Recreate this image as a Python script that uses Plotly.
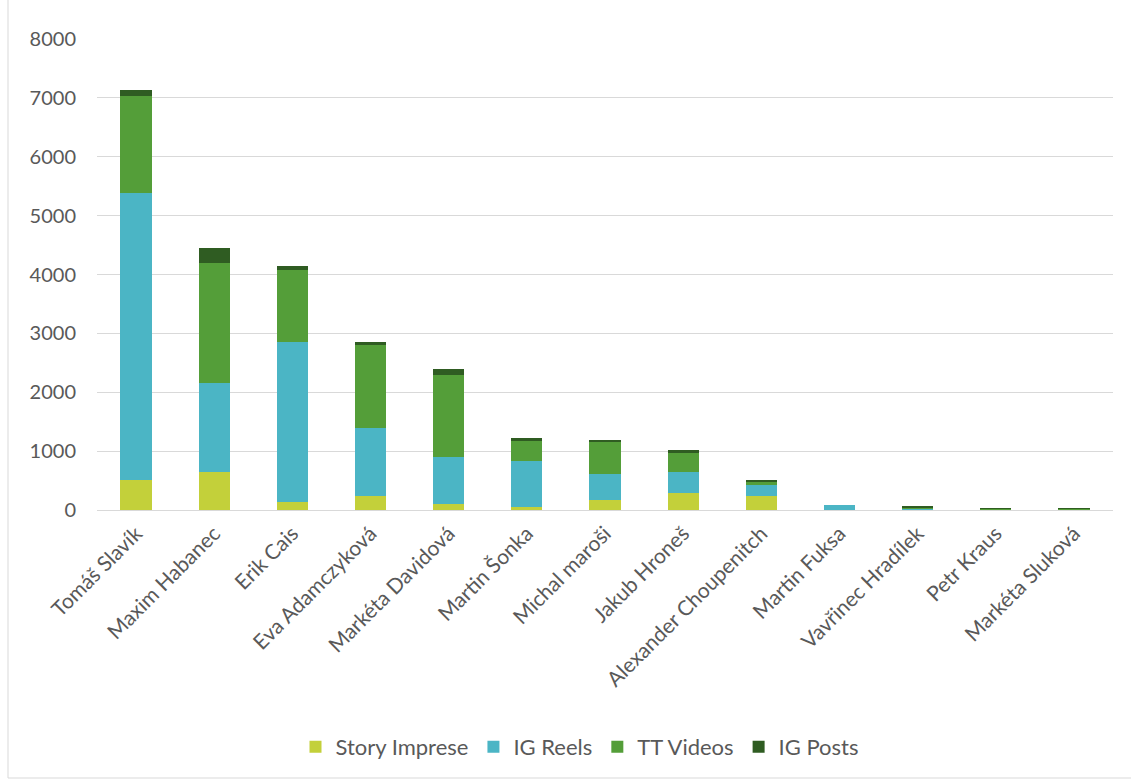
import plotly.graph_objects as go

categories = ["Tomáš Slavík", "Maxim Habanec", "Erik Cais", "Eva Adamczyková",
              "Markéta Davidová", "Martin Šonka", "Michal maroši", "Jakub Hroneš",
              "Alexander Choupenitch", "Martin Fuksa", "Vavřinec Hradílek",
              "Petr Kraus", "Markéta Sluková"]
story_imprese = [510, 641, 136, 244, 102, 51, 170, 284, 239, 0, 12, 5, 5]
ig_reels = [4875, 1513, 2715, 1145, 801, 784, 449, 364, 181, 80, 6, 5, 5]
tt_videos = [1644, 2046, 1231, 1417, 1387, 330, 529, 335, 63, 0, 28, 14, 14]
ig_posts = [103, 244, 62, 45, 113, 57, 40, 28, 17, 0, 10, 10, 10]

series = [
    ("Story Imprese", story_imprese, "#C3D03A"),
    ("IG Reels", ig_reels, "#4BB5C5"),
    ("TT Videos", tt_videos, "#549E39"),
    ("IG Posts", ig_posts, "#2F5C22"),
]

fig = go.Figure()
for name, vals, col in series:
    fig.add_trace(go.Bar(x=categories, y=vals, name=name, marker_color=col,
                         marker_line_width=0))

W, H = 1131, 780
ml, mr, mt, mb = 97, 18, 39, 270
pw = W - ml - mr
ph = H - mt - mb

def px_x(p):
    return (p - ml) / pw

def px_y(p):
    return (H - mb - p) / ph

font_fam = "Lato, Open Sans, sans-serif"
fig.update_layout(
    width=W, height=H,
    barmode="stack",
    bargap=0.6,
    margin=dict(l=ml, r=mr, t=mt, b=mb),
    paper_bgcolor="white",
    plot_bgcolor="white",
    font=dict(family=font_fam, size=20, color="#595959"),
    xaxis=dict(tickangle=-45, showgrid=False, showline=True, linecolor="#D9D9D9",
               linewidth=1, ticks="", ticklabelstandoff=2,
               tickfont=dict(size=21, color="#595959")),
    yaxis=dict(range=[0, 8000], dtick=1000, showgrid=True, gridcolor="#D9D9D9",
               gridwidth=1, zeroline=False, showline=False, ticks="",
               ticklabelstandoff=20, tickfont=dict(size=20, color="#595959")),
    legend=dict(orientation="h", x=px_x(580), xanchor="center", y=px_y(747),
                yanchor="middle", font=dict(size=22, color="#595959"),
                traceorder="normal", itemwidth=30),
    showlegend=True,
)

fig.add_shape(type="line", xref="paper", yref="paper",
              x0=px_x(8), x1=px_x(8), y0=px_y(0), y1=px_y(778),
              line=dict(color="#D9D9D9", width=1))
fig.add_shape(type="line", xref="paper", yref="paper",
              x0=px_x(8), x1=px_x(1131), y0=px_y(778), y1=px_y(778),
              line=dict(color="#D9D9D9", width=1))

fig.write_html("out.html")
